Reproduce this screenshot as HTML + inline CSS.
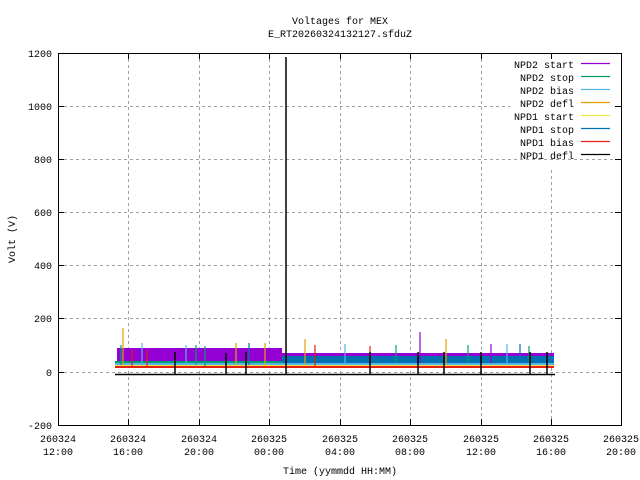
<!DOCTYPE html>
<html><head><meta charset="utf-8"><style>body{margin:0;background:#fff}svg{display:block}text{font-family:"Liberation Mono",monospace;font-size:10px;fill:#000}</style></head><body>
<svg width="640" height="480" xmlns="http://www.w3.org/2000/svg">
<g stroke="#a0a0a0" stroke-dasharray="3,3" stroke-width="1">
<line x1="58" y1="372.5" x2="621" y2="372.5"/><line x1="58" y1="318.5" x2="621" y2="318.5"/><line x1="58" y1="265.5" x2="621" y2="265.5"/><line x1="58" y1="212.5" x2="621" y2="212.5"/><line x1="58" y1="159.5" x2="621" y2="159.5"/><line x1="58" y1="106.5" x2="510" y2="106.5"/>
<line x1="128.5" y1="53" x2="128.5" y2="425"/><line x1="199.5" y1="53" x2="199.5" y2="425"/><line x1="269.5" y1="53" x2="269.5" y2="425"/><line x1="340.5" y1="53" x2="340.5" y2="425"/><line x1="410.5" y1="53" x2="410.5" y2="425"/><line x1="481.5" y1="53" x2="481.5" y2="425"/><line x1="551.5" y1="170" x2="551.5" y2="425"/>
</g>
<rect x="117" y="348" width="165" height="15" fill="#9400d3"/>
<rect x="282" y="353" width="272" height="10" fill="#9400d3"/>
<rect x="282" y="356" width="272" height="8" fill="#0072b2"/>
<rect x="115" y="361" width="167" height="2" fill="#009e73"/>
<rect x="115" y="363" width="439" height="2" fill="#56b4e9"/>
<rect x="115" y="365" width="439" height="1" fill="#f0e442"/>
<rect x="115" y="366" width="439" height="2" fill="#e51e10"/>
<line x1="115" y1="374.5" x2="555" y2="374.5" stroke="#000" stroke-width="1.5"/>
<g stroke-width="1.2">
<line x1="123" y1="328" x2="123" y2="365" stroke="#e69f00"/><line x1="121" y1="345" x2="121" y2="365" stroke="#009e73"/><line x1="142" y1="343" x2="142" y2="365" stroke="#56b4e9"/><line x1="132" y1="350" x2="132" y2="366" stroke="#e51e10"/><line x1="147" y1="350" x2="147" y2="366" stroke="#e51e10"/>
<line x1="186" y1="345" x2="186" y2="365" stroke="#56b4e9"/><line x1="196" y1="345" x2="196" y2="365" stroke="#009e73"/><line x1="205" y1="346" x2="205" y2="366" stroke="#009e73"/><line x1="236" y1="343" x2="236" y2="365" stroke="#e69f00"/><line x1="249" y1="343" x2="249" y2="365" stroke="#0072b2"/><line x1="265" y1="343" x2="265" y2="365" stroke="#e69f00"/><line x1="305" y1="339" x2="305" y2="365" stroke="#e69f00"/><line x1="315" y1="345" x2="315" y2="366" stroke="#e51e10"/>
<line x1="345" y1="344" x2="345" y2="363" stroke="#56b4e9"/><line x1="370" y1="346" x2="370" y2="366" stroke="#e51e10"/><line x1="396" y1="345" x2="396" y2="363" stroke="#009e73"/><line x1="420" y1="332" x2="420" y2="363" stroke="#9400d3"/><line x1="446" y1="339" x2="446" y2="365" stroke="#e69f00"/><line x1="468" y1="345" x2="468" y2="363" stroke="#009e73"/><line x1="491" y1="344" x2="491" y2="363" stroke="#9400d3"/><line x1="507" y1="344" x2="507" y2="363" stroke="#56b4e9"/><line x1="520" y1="344" x2="520" y2="363" stroke="#0072b2"/><line x1="529" y1="346" x2="529" y2="363" stroke="#009e73"/>
</g>
<g stroke="#000" stroke-width="1.5">
<line x1="175" y1="352" x2="175" y2="374"/><line x1="226" y1="353" x2="226" y2="374"/><line x1="246" y1="352" x2="246" y2="374"/><line x1="286" y1="57" x2="286" y2="374"/><line x1="370" y1="352" x2="370" y2="374"/><line x1="418" y1="352" x2="418" y2="374"/><line x1="444" y1="352" x2="444" y2="374"/><line x1="481" y1="352" x2="481" y2="374"/><line x1="530" y1="352" x2="530" y2="374"/><line x1="547" y1="352" x2="547" y2="374"/>
</g>
<rect x="58.5" y="53.5" width="563" height="372" fill="none" stroke="#000"/>
<g stroke="#000">
<line x1="58" y1="372.5" x2="64" y2="372.5"/><line x1="615" y1="372.5" x2="621" y2="372.5"/>
<line x1="58" y1="318.5" x2="64" y2="318.5"/><line x1="615" y1="318.5" x2="621" y2="318.5"/>
<line x1="58" y1="265.5" x2="64" y2="265.5"/><line x1="615" y1="265.5" x2="621" y2="265.5"/>
<line x1="58" y1="212.5" x2="64" y2="212.5"/><line x1="615" y1="212.5" x2="621" y2="212.5"/>
<line x1="58" y1="159.5" x2="64" y2="159.5"/><line x1="615" y1="159.5" x2="621" y2="159.5"/>
<line x1="58" y1="106.5" x2="64" y2="106.5"/><line x1="615" y1="106.5" x2="621" y2="106.5"/>
<line x1="128.5" y1="425" x2="128.5" y2="419"/><line x1="199.5" y1="425" x2="199.5" y2="419"/><line x1="269.5" y1="425" x2="269.5" y2="419"/><line x1="340.5" y1="425" x2="340.5" y2="419"/><line x1="410.5" y1="425" x2="410.5" y2="419"/><line x1="481.5" y1="425" x2="481.5" y2="419"/><line x1="551.5" y1="425" x2="551.5" y2="419"/>
<line x1="128.5" y1="53" x2="128.5" y2="59"/><line x1="199.5" y1="53" x2="199.5" y2="59"/><line x1="269.5" y1="53" x2="269.5" y2="59"/><line x1="340.5" y1="53" x2="340.5" y2="59"/><line x1="410.5" y1="53" x2="410.5" y2="59"/><line x1="481.5" y1="53" x2="481.5" y2="59"/><line x1="551.5" y1="53" x2="551.5" y2="59"/>
</g>
<g text-anchor="end">
<text x="52" y="429">-200</text><text x="52" y="376">0</text><text x="52" y="322">200</text><text x="52" y="269">400</text><text x="52" y="216">600</text><text x="52" y="163">800</text><text x="52" y="110">1000</text><text x="52" y="57">1200</text>
</g>
<g text-anchor="middle">
<text x="58" y="442">260324</text><text x="58" y="455">12:00</text>
<text x="128" y="442">260324</text><text x="128" y="455">16:00</text>
<text x="199" y="442">260324</text><text x="199" y="455">20:00</text>
<text x="269" y="442">260325</text><text x="269" y="455">00:00</text>
<text x="340" y="442">260325</text><text x="340" y="455">04:00</text>
<text x="410" y="442">260325</text><text x="410" y="455">08:00</text>
<text x="481" y="442">260325</text><text x="481" y="455">12:00</text>
<text x="551" y="442">260325</text><text x="551" y="455">16:00</text>
<text x="621" y="442">260325</text><text x="621" y="455">20:00</text>
<text x="340" y="474">Time (yymmdd HH:MM)</text>
<text x="340" y="24">Voltages for MEX</text>
<text x="340" y="37">E_RT20260324132127.sfduZ</text>
<text transform="translate(15,239) rotate(-90)">Volt (V)</text>
</g>
<g text-anchor="end">
<text x="574" y="68">NPD2 start</text><text x="574" y="81">NPD2 stop</text><text x="574" y="94">NPD2 bias</text><text x="574" y="107">NPD2 defl</text><text x="574" y="120">NPD1 start</text><text x="574" y="133">NPD1 stop</text><text x="574" y="146">NPD1 bias</text><text x="574" y="159">NPD1 defl</text>
</g>
<g stroke-width="1.2">
<line x1="581" y1="63.5" x2="610" y2="63.5" stroke="#9400d3"/><line x1="581" y1="76.5" x2="610" y2="76.5" stroke="#009e73"/><line x1="581" y1="89.5" x2="610" y2="89.5" stroke="#56b4e9"/><line x1="581" y1="102.5" x2="610" y2="102.5" stroke="#e69f00"/><line x1="581" y1="115.5" x2="610" y2="115.5" stroke="#f0e442"/><line x1="581" y1="128.5" x2="610" y2="128.5" stroke="#0072b2"/><line x1="581" y1="141.5" x2="610" y2="141.5" stroke="#e51e10"/><line x1="581" y1="154.5" x2="610" y2="154.5" stroke="#000"/>
</g>
</svg>
</body></html>
